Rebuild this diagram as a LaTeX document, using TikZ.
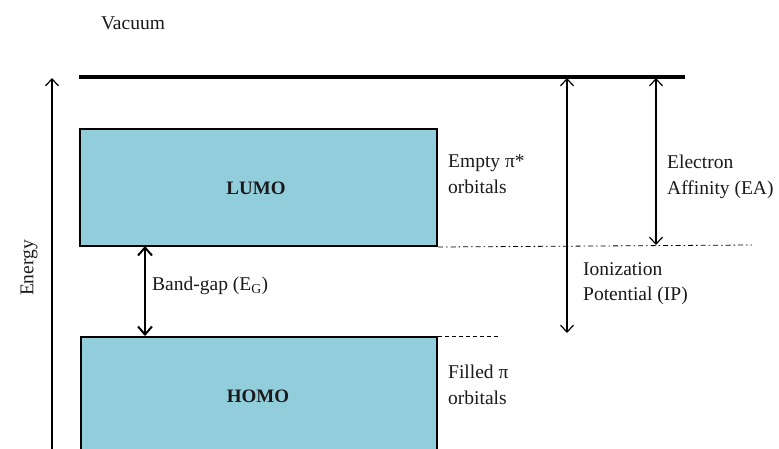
\documentclass[tikz,border=0pt]{standalone}
\usepackage{fontspec}
\setmainfont{Liberation Serif}
\usetikzlibrary{arrows.meta}
\definecolor{band}{HTML}{92CDDC}
\definecolor{txt}{HTML}{1A1A1A}
\tikzset{
  level/.style={draw=black, line width=2pt, fill=band, inner sep=0pt},
  lbl/.style={font=\fontsize{19.5}{25.5}\selectfont, text=txt, align=left, inner sep=0pt},
  boxlbl/.style={font=\fontsize{19}{24}\selectfont\bfseries, text=txt, inner sep=0pt},
  barb/.style={-{Straight Barb[length=7pt,width=13pt,line width=1.2pt]}},
  dbarb/.style={{Straight Barb[length=7pt,width=13pt,line width=1.2pt]}-{Straight Barb[length=7pt,width=13pt,line width=1.2pt]}},
  tbarb/.style={{Straight Barb[length=8pt,width=14pt,line width=2pt]}-{Straight Barb[length=8pt,width=14pt,line width=2pt]}}
}
\begin{document}
\begin{tikzpicture}[x=1pt,y=-1pt]
\clip (0,0) rectangle (779,448);
\fill[white] (0,0) rectangle (779,448);
% vacuum
\node[lbl, anchor=center] (vac) at (133,23) {Vacuum};
\coordinate (vL) at (79,77);
\coordinate (vR) at (685,77);
\draw[line width=3.4pt] (vL) -- (vR);
% energy axis
\coordinate (eB) at (52,460);
\coordinate (eT) at (52,78);
\draw[line width=1.2pt, barb] (eB) -- (eT);
\node[lbl, rotate=90, anchor=center] (energy) at (29,268) {Energy};
% boxes
\node[level, minimum width=357pt, minimum height=117pt, anchor=north west] (lumo) at (79,128) {};
\node[boxlbl] (lumot) at (256,188) {LUMO};
\node[level, minimum width=356pt, minimum height=140pt, anchor=north west] (homo) at (80,336) {};
\node[boxlbl] (homot) at (258,396) {HOMO};
% band gap
\coordinate (bgT) at (145,246);
\coordinate (bgB) at (145,336);
\draw[line width=2.2pt, tbarb] (bgT) -- (bgB);
\node[lbl, anchor=west] (bgl) at (152,286) {Band-gap (E\textsubscript{G})};
% reference lines
\coordinate (lumoR) at (lumo.south east);
\coordinate (dd) at (752,245);
\draw[line width=0.8pt, dash pattern=on 5pt off 3pt on 1.5pt off 3pt] (lumoR) -- (dd);
\coordinate (homoR) at (homo.north east);
\coordinate (hd) at (501,336);
\draw[line width=0.8pt, dash pattern=on 4pt off 3pt] (homoR) -- (hd);
% IP and EA arrows
\coordinate (ipT) at (567,78);
\coordinate (ipB) at (567,333);
\draw[line width=1.2pt, dbarb] (ipT) -- (ipB);
\coordinate (eaT) at (656,78);
\coordinate (eaB) at (656,245);
\draw[line width=1.2pt, dbarb] (eaT) -- (eaB);
% labels
\node[lbl, anchor=north west] (empty) at (448,155) {Empty π*\\orbitals};
\node[lbl, anchor=north west] (ea) at (667,155) {Electron\\Affinity (EA)};
\node[lbl, anchor=north west] (ip) at (583,262) {Ionization\\Potential (IP)};
\node[lbl, anchor=north west] (filled) at (448,365) {Filled π\\orbitals};
\end{tikzpicture}
\end{document}
